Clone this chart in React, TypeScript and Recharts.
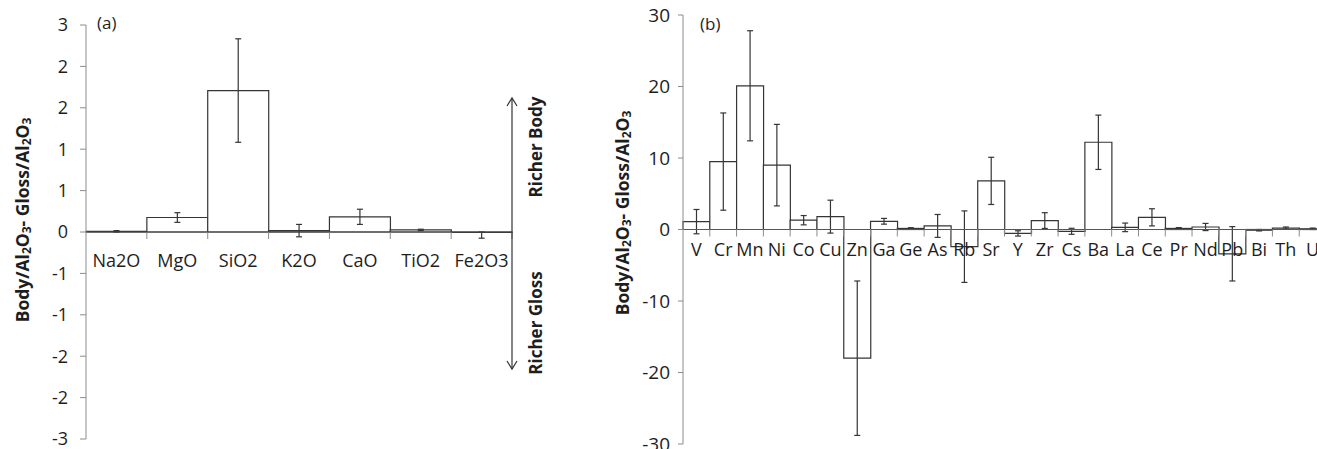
import { BarChart, Bar, XAxis, YAxis, ErrorBar, ReferenceLine } from 'recharts';

// (a) major oxides
const oxides = ['Na2O', 'MgO', 'SiO2', 'K2O', 'CaO', 'TiO2', 'Fe2O3'];
const oxideDiff = [0.01, 0.21, 2.05, 0.02, 0.22, 0.03, -0.005];
// [minus, plus]
const oxideErr = [
  [0.01, 0.01],
  [0.07, 0.07],
  [0.75, 0.75],
  [0.09, 0.09],
  [0.11, 0.11],
  [0.01, 0.01],
  [0.085, 0.005],
];
const oxideTicks = [3, 2.4, 1.8, 1.2, 0.6, 0, -0.6, -1.2, -1.8, -2.4, -3];

// (b) trace elements
const elements = ['V', 'Cr', 'Mn', 'Ni', 'Co', 'Cu', 'Zn', 'Ga', 'Ge', 'As', 'Rb', 'Sr', 'Y', 'Zr', 'Cs', 'Ba', 'La', 'Ce', 'Pr', 'Nd', 'Pb', 'Bi', 'Th', 'U'];
const elementDiff = [1.1, 9.5, 20.1, 9.0, 1.3, 1.8, -18.0, 1.15, 0.15, 0.5, -2.4, 6.8, -0.55, 1.25, -0.25, 12.2, 0.3, 1.7, 0.15, 0.35, -3.4, -0.1, 0.2, 0.1];
const elementErr = [1.7, 6.8, 7.7, 5.7, 0.65, 2.3, 10.8, 0.4, 0.1, 1.6, 5.0, 3.3, 0.37, 1.1, 0.42, 3.8, 0.6, 1.2, 0.12, 0.5, 3.8, 0.1, 0.15, 0.1];
const elementTicks = [30, 20, 10, 0, -10, -20, -30];

const oxideData = oxides.map((name, i) => ({ name, v: oxideDiff[i], e: oxideErr[i] }));
const elementData = elements.map((name, i) => ({ name, v: elementDiff[i], e: elementErr[i] }));

const FONT = '"Open Sans", sans-serif';
const TEXT = '#1e1e1e';
const AXIS = '#8c8c8c';
const BAR = '#353535';

// layout of panel (a)
const A = { left: 0, width: 560, yAxisW: 86, top: 25, bottom: 9, plotW: 426 };
// layout of panel (b)
const B = { left: 600, width: 760, yAxisW: 83, top: 15, bottom: 4, plotW: 643 };
const H = 449;

function makeTick(zeroY: number, bw: number, dy: number, fontSize: number) {
  return (props: any) => {
    const { x, payload } = props;
    return (
      <g>
        <line x1={x + bw / 2} x2={x + bw / 2} y1={zeroY} y2={zeroY + 7} stroke={AXIS} />
        <text
          x={x}
          y={zeroY + dy}
          textAnchor="middle"
          dominantBaseline="central"
          fontSize={fontSize}
          fontFamily={FONT}
          fill={TEXT}
        >
          {payload.value}
        </text>
      </g>
    );
  };
}

function AxisTitle({ x, y }: { x: number; y: number }) {
  return (
    <text
      transform={`translate(${x},${y}) rotate(-90)`}
      textAnchor="middle"
      dominantBaseline="central"
      fontSize={17.5}
      fontWeight={700}
      fontFamily={FONT}
      fill={TEXT}
    >
      Body/Al<tspan dy={4} fontSize={12}>2</tspan>
      <tspan dy={-4}>O</tspan>
      <tspan dy={4} fontSize={12}>3</tspan>
      <tspan dy={-4}>- Gloss/Al</tspan>
      <tspan dy={4} fontSize={12}>2</tspan>
      <tspan dy={-4}>O</tspan>
      <tspan dy={4} fontSize={12}>3</tspan>
    </text>
  );
}

export default function App() {
  const zeroA = A.top + (H - A.top - A.bottom - 1) / 2;
  const zeroB = B.top + (H - B.top - B.bottom - 1) / 2;
  const arrowX = A.yAxisW + A.plotW;

  return (
    <div style={{ position: 'absolute', left: 0, top: 0, width: 1317, height: H, overflow: 'hidden', background: '#fff', fontFamily: FONT }}>
      <div style={{ position: 'absolute', left: A.left, top: 0 }}>
        <BarChart
          width={A.width}
          height={H}
          data={oxideData}
          margin={{ top: A.top, bottom: A.bottom, left: 0, right: A.width - A.yAxisW - A.plotW }}
          barCategoryGap={0}
          barGap={0}
        >
          <XAxis
            dataKey="name"
            height={1}
            axisLine={false}
            tickLine={false}
            interval={0}
            tick={makeTick(zeroA, A.plotW / oxides.length, 28, 18)}
          />
          <YAxis
            type="number"
            domain={[-3, 3]}
            ticks={oxideTicks}
            interval={0}
            width={A.yAxisW}
            tickFormatter={(v: number) => String(Math.round(v) || 0)}
            axisLine={{ stroke: AXIS }}
            tickLine={{ stroke: AXIS }}
            tickSize={6}
            tickMargin={12}
            tick={{ fontSize: 18, fill: TEXT, fontFamily: FONT }}
          />
          <Bar dataKey="v" fill="#fff" stroke={BAR} strokeWidth={1.2} isAnimationActive={false}>
            <ErrorBar dataKey="e" direction="y" width={3} stroke={BAR} strokeWidth={1.2} />
          </Bar>
          <ReferenceLine y={0} stroke="#444" strokeWidth={1.2} />
        </BarChart>
      </div>

      <div style={{ position: 'absolute', left: B.left, top: 0 }}>
        <BarChart
          width={B.width}
          height={H}
          data={elementData}
          margin={{ top: B.top, bottom: B.bottom, left: 0, right: B.width - B.yAxisW - B.plotW }}
          barCategoryGap={0}
          barGap={0}
        >
          <XAxis
            dataKey="name"
            height={1}
            axisLine={false}
            tickLine={false}
            interval={0}
            tick={makeTick(zeroB, B.plotW / elements.length, 19, 18)}
          />
          <YAxis
            type="number"
            domain={[-30, 30]}
            ticks={elementTicks}
            interval={0}
            width={B.yAxisW}
            axisLine={{ stroke: AXIS }}
            tickLine={{ stroke: AXIS }}
            tickSize={5}
            tickMargin={8}
            tick={{ fontSize: 19, fill: TEXT, fontFamily: FONT }}
          />
          <Bar dataKey="v" fill="#fff" stroke={BAR} strokeWidth={1.2} isAnimationActive={false}>
            <ErrorBar dataKey="e" direction="y" width={3} stroke={BAR} strokeWidth={1.2} />
          </Bar>
          <ReferenceLine y={0} stroke="#555" strokeWidth={1.2} />
        </BarChart>
      </div>

      <svg width={1317} height={H} style={{ position: 'absolute', left: 0, top: 0, pointerEvents: 'none' }}>
        <text x={97} y={22} dominantBaseline="central" fontSize={17} fontFamily={FONT} fill={TEXT}>(a)</text>
        <text x={700} y={23} dominantBaseline="central" fontSize={17} fontFamily={FONT} fill={TEXT}>(b)</text>
        <AxisTitle x={22} y={220} />
        <AxisTitle x={622} y={213} />
        <line x1={arrowX} x2={arrowX} y1={98} y2={369} stroke="#333" strokeWidth={1.2} />
        <polyline points={`${arrowX - 5},${106} ${arrowX},${98} ${arrowX + 5},${106}`} fill="none" stroke="#333" strokeWidth={1.2} />
        <polyline points={`${arrowX - 5},${361} ${arrowX},${369} ${arrowX + 5},${361}`} fill="none" stroke="#333" strokeWidth={1.2} />
        <text transform="translate(535,147) rotate(-90)" textAnchor="middle" dominantBaseline="central" fontSize={17} fontWeight={700} fontFamily={FONT} fill={TEXT}>Richer Body</text>
        <text transform="translate(535,323) rotate(-90)" textAnchor="middle" dominantBaseline="central" fontSize={17} fontWeight={700} fontFamily={FONT} fill={TEXT}>Richer Gloss</text>
      </svg>
    </div>
  );
}
